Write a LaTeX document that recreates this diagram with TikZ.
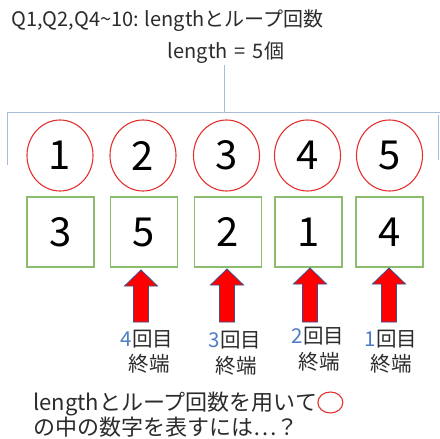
\documentclass[tikz,border=0pt]{standalone}
\usepackage{fontspec}
\setmainfont{Noto Sans CJK JP}
\definecolor{txt}{HTML}{2B2B2B}
\definecolor{cred}{HTML}{E3302F}
\definecolor{cgreen}{HTML}{8CBD6C}
\definecolor{cline}{HTML}{A9BCD6}
\definecolor{cblue}{HTML}{4F7CC6}
\definecolor{aout}{HTML}{3A4F8F}
\tikzset{
  ttl/.style={inner sep=0pt, text=txt, font=\fontsize{20}{24}\selectfont},
  ring/.style={draw=cred, line width=1.1pt, ellipse, minimum width=66pt, minimum height=71pt, inner sep=0pt, font=\fontsize{40}{44}\selectfont, text=black},
  cell/.style={draw=cgreen, line width=1.1pt, minimum width=67pt, minimum height=70pt, inner sep=0pt, font=\fontsize{40}{44}\selectfont, text=black},
  lab/.style={inner sep=0pt, text=txt, font=\fontsize{20.5}{24}\selectfont, anchor=base},
  blockarrow/.style={fill=red, draw=aout, line width=0.8pt, line join=miter},
  conn/.style={draw=cline, line width=1pt}
}
\usetikzlibrary{shapes.geometric}
\begin{document}
\begin{tikzpicture}[x=1pt,y=-1pt]
\useasboundingbox (0,0) rectangle (440,439);
\node[ttl, anchor=base west] (title) at (11,27) {Q1,Q2,Q4{\char"7E}10: lengthとループ回数};
\node[ttl, anchor=base] (len) at (226,58) {length\hspace{7pt}=\hspace{7pt}5個};
\coordinate (bl) at (7,165);
\coordinate (tl) at (7,112);
\coordinate (tr) at (440,112);
\coordinate (tm) at (224,112);
\draw[conn] (bl) -- (tl) -- (tr);
\draw[conn] (438.5,115) -- (438.5,160);
\draw[conn] ([yshift=-2pt]len.south -| tm) -- (tm);
% circles
\node[ring] (c1) at (60,155.5) {1};
\node[ring] (c2) at (143,155.5) {2};
\node[ring] (c3) at (226.5,155.5) {3};
\node[ring] (c4) at (307.5,155.5) {4};
\node[ring] (c5) at (389.5,155.5) {5};
% squares
\node[cell] (s1) at (60.5,232) {3};
\node[cell] (s2) at (144,232) {5};
\node[cell] (s3) at (228,232) {2};
\node[cell] (s4) at (308.5,232) {1};
\node[cell] (s5) at (389.5,232) {4};
% arrows
\foreach \x/\t in {141/270,227/269,310/268,389/268}{
  \draw[blockarrow] (\x,\t) -- (\x+16.5,\t+16) -- (\x+7.5,\t+16) -- (\x+7.5,322) -- (\x-7.5,322) -- (\x-7.5,\t+16) -- (\x-16.5,\t+16) -- cycle;
}
% labels
\node[lab] (l1a) at (147,346) {\textcolor{cblue}{4}回目};
\node[lab] (l1b) at (149,371.5) {終端};
\node[lab] (l2a) at (235,347) {\textcolor{cblue}{3}回目};
\node[lab] (l2b) at (236,373) {終端};
\node[lab] (l3a) at (318,343) {\textcolor{cblue}{2}回目};
\node[lab] (l3b) at (319,369) {終端};
\node[lab] (l4a) at (391,346) {\textcolor{cblue}{1}回目};
\node[lab] (l4b) at (391,371.5) {終端};
% bottom text
\node[lab, anchor=base west, font=\fontsize{22}{26}\selectfont] (q1) at (33,410) {lengthとループ回数を用いて};
\node[lab, anchor=base west, font=\fontsize{22}{26}\selectfont] (q2) at (33,435) {の中の数字を表すには…？};
\node[draw=cred, line width=1.1pt, ellipse, minimum width=25pt, minimum height=21pt, inner sep=0pt, anchor=west] (oc) at ([xshift=0pt,yshift=-0.5pt]q1.east |- 0,402) {};
\end{tikzpicture}
\end{document}
